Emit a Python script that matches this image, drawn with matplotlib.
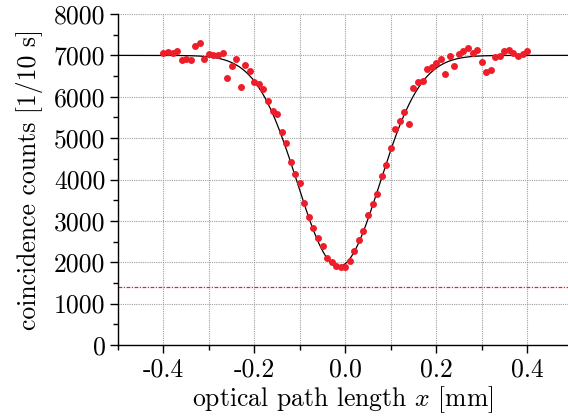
import numpy as np
import matplotlib.pyplot as plt
from matplotlib.ticker import MultipleLocator

plt.rcParams['font.family'] = 'cmr10'
plt.rcParams['mathtext.fontset'] = 'cm'
plt.rcParams['axes.unicode_minus'] = False

# --- measured data (optical path length in mm, counts per 10 s) ---
x_mm = np.round(np.arange(-40, 41) * 0.01, 2)
counts = [
    7065, 7075, 7050, 7113, 6888, 6913, 6881, 7234, 7300, 6913,
    7034, 7017, 7002, 7058, 6461, 6751, 6913, 6243, 6768, 6623,
    6350, 6308, 6195, 5897, 5648, 5583, 5156, 4880, 4423, 4140,
    3915, 3432, 3101, 2835, 2593, 2393, 2110, 2006, 1917, 1885,
    1893, 2023, 2265, 2531, 2748, 3135, 3415, 3642, 4085, 4358,
    4757, 5221, 5407, 5632, 5342, 6204, 6364, 6374, 6664, 6712,
    6809, 6905, 6550, 6985, 6744, 7026, 7099, 7178, 7058, 7123,
    6848, 6599, 6647, 6969, 6978, 7106, 7123, 7058, 6978, 7041,
    7113,
]

# Gaussian dip fit: baseline, depth, centre [mm], sigma [mm]
fit_params = [7000, 5100, -0.0145, 0.0905]
classical_limit = 1400

xticks = [-0.4, -0.2, 0.0, 0.2, 0.4]
xtick_labels = ['-0.4', '-0.2', '0.0', '0.2', '0.4']
yticks = [0, 1000, 2000, 3000, 4000, 5000, 6000, 7000, 8000]

fig = plt.figure(figsize=(5.68, 4.16), dpi=100)
ax = fig.add_axes([0.2077, 0.1707, 0.7923, 0.7956])

xf = np.linspace(-0.5, 0.5, 600)
base, depth, x0, sig = fit_params
yf = base - depth * np.exp(-(xf - x0) ** 2 / (2 * sig ** 2))

ax.axhline(classical_limit, color='#e8242e', lw=0.9, ls=(0, (3, 1.2, 1, 1.2)), zorder=2)
ax.plot(xf, yf, color='black', lw=0.9, zorder=3)
ax.plot(x_mm, counts, 'o', color='#ee1d2a', ms=5, mec='none', zorder=4)

ax.set_xlim(-0.5, 0.49)
ax.set_ylim(0, 8000)
ax.set_xticks(xticks)
ax.set_xticklabels(xtick_labels)
ax.xaxis.set_minor_locator(MultipleLocator(0.1))
ax.set_yticks(yticks)
ax.yaxis.set_minor_locator(MultipleLocator(500))

ax.grid(True, which='major', axis='y', color='#a0a0a0', ls=(0, (1, 1)), lw=0.8)
ax.grid(True, which='both', axis='x', color='#a0a0a0', ls=(0, (1, 1)), lw=0.8)
ax.set_axisbelow(True)

for s in ['top', 'right']:
    ax.spines[s].set_visible(False)
for s in ['left', 'bottom']:
    ax.spines[s].set_linewidth(1.0)

ax.tick_params(which='major', direction='out', length=6, width=1.0, labelsize=18.5, pad=3)
ax.tick_params(which='minor', direction='out', length=3.5, width=1.0)

ax.set_xlabel('optical path length $x$ [mm]', fontsize=18.5, labelpad=2)
ax.set_ylabel('coincidence counts [1/10 s]', fontsize=18.5, labelpad=8)

fig.savefig('out.png', dpi=100)
